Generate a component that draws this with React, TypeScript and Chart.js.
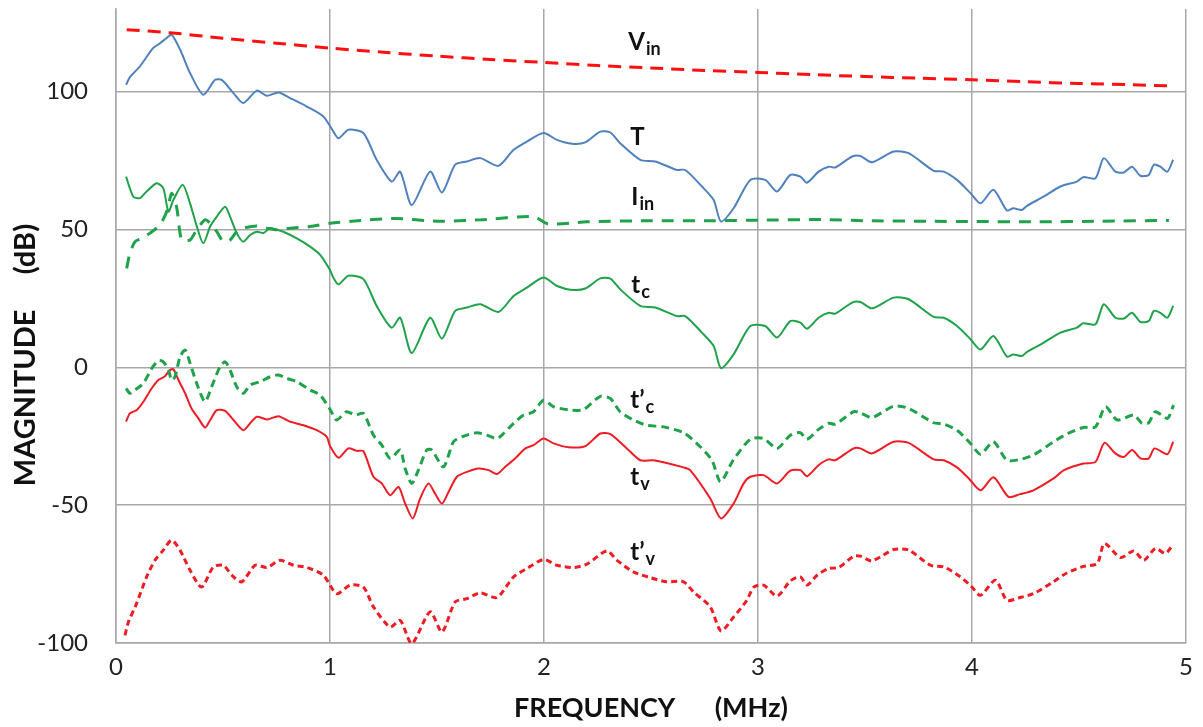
import { useEffect, useRef } from 'react';
import { Chart, registerables } from 'chart.js';

Chart.register(...registerables);

// ---------- data (frequency in MHz, magnitude in dB) ----------
const vinFreq = [0.05, 0.25, 0.5, 0.75, 1.0, 1.25, 1.5, 1.75, 2.0, 2.25, 2.5, 2.75, 3.0, 3.25, 3.5, 3.75, 4.0, 4.25, 4.5, 4.75, 4.92];
const vinMag = [122.5, 121.4, 119.4, 117.6, 115.8, 114.3, 112.9, 111.7, 110.6, 109.5, 108.6, 107.7, 107.0, 106.2, 105.5, 104.9, 104.3, 103.6, 103.0, 102.5, 102.1];

const tFreq = [0.047, 0.065, 0.112, 0.173, 0.206, 0.237, 0.26, 0.3, 0.346, 0.408, 0.463, 0.494, 0.549, 0.595, 0.658, 0.705, 0.759, 0.813, 0.892, 0.969, 1.016, 1.04, 1.086, 1.156, 1.218, 1.288, 1.328, 1.382, 1.468, 1.523, 1.585, 1.64, 1.702, 1.787, 1.858, 1.92, 1.998, 2.061, 2.131, 2.193, 2.263, 2.31, 2.356, 2.45, 2.52, 2.621, 2.66, 2.738, 2.793, 2.827, 2.886, 2.964, 3.034, 3.089, 3.151, 3.198, 3.229, 3.283, 3.33, 3.361, 3.44, 3.478, 3.533, 3.634, 3.704, 3.821, 3.868, 3.93, 3.993, 4.04, 4.1, 4.163, 4.193, 4.233, 4.257, 4.334, 4.413, 4.49, 4.52, 4.577, 4.616, 4.67, 4.71, 4.748, 4.787, 4.826, 4.85, 4.88, 4.913, 4.94];
const tMag = [102.5, 105.3, 109.2, 115.8, 117.6, 119.5, 120.7, 115.2, 106.8, 98.9, 104.3, 104.3, 99.5, 95.9, 100.4, 98.5, 99.7, 97.7, 94.6, 91.0, 85.5, 83.1, 86.2, 85.0, 75.3, 67.4, 71.0, 58.9, 71.0, 63.4, 73.5, 74.7, 75.9, 73.1, 78.9, 81.9, 85.0, 82.5, 81.1, 81.6, 85.5, 85.2, 81.3, 75.3, 74.7, 71.6, 71.6, 65.6, 60.7, 52.9, 57.7, 68.0, 68.0, 63.8, 69.8, 69.2, 67.0, 71.0, 72.8, 72.5, 76.5, 76.7, 74.4, 78.3, 77.7, 71.3, 71.0, 68.0, 63.2, 59.5, 64.4, 56.9, 57.7, 57.1, 58.6, 61.9, 65.6, 67.4, 69.0, 68.6, 75.9, 71.0, 70.7, 72.8, 69.5, 69.8, 73.5, 72.8, 71.0, 75.3];

const iinFreq = [0.05, 0.065, 0.089, 0.12, 0.159, 0.206, 0.24, 0.26, 0.283, 0.307, 0.346, 0.377, 0.416, 0.44, 0.471, 0.502, 0.533, 0.564, 0.595, 0.658, 0.705, 0.751, 0.813, 0.907, 1.0, 1.1, 1.3, 1.5, 1.7, 1.95, 2.02, 2.2, 2.5, 2.8, 3.0, 3.3, 3.5, 3.8, 4.0, 4.3, 4.6, 4.92];
const iinMag = [35.9, 41.4, 45.6, 46.8, 48.7, 51.7, 57.1, 63.2, 58.3, 46.2, 46.2, 49.9, 53.5, 52.3, 49.2, 45.6, 46.2, 49.2, 50.5, 51.3, 50.5, 49.9, 50.5, 51.1, 52.3, 53.0, 54.0, 53.0, 53.5, 54.7, 52.0, 52.8, 53.2, 53.2, 53.4, 53.6, 53.2, 53.0, 52.9, 52.8, 53.0, 53.3];

const tcFreq = [0.047, 0.081, 0.112, 0.143, 0.19, 0.221, 0.245, 0.268, 0.312, 0.346, 0.377, 0.408, 0.44, 0.471, 0.51, 0.533, 0.564, 0.595, 0.627, 0.658, 0.689, 0.72, 0.751, 0.782, 0.845, 0.907, 0.954, 1.0, 1.016, 1.04, 1.086, 1.156, 1.218, 1.288, 1.328, 1.382, 1.468, 1.523, 1.585, 1.64, 1.702, 1.787, 1.858, 1.92, 1.998, 2.061, 2.131, 2.193, 2.263, 2.31, 2.356, 2.45, 2.52, 2.621, 2.66, 2.738, 2.793, 2.827, 2.886, 2.964, 3.034, 3.089, 3.151, 3.198, 3.229, 3.283, 3.33, 3.361, 3.44, 3.478, 3.533, 3.634, 3.704, 3.821, 3.868, 3.93, 3.993, 4.04, 4.1, 4.163, 4.193, 4.233, 4.257, 4.334, 4.413, 4.49, 4.52, 4.577, 4.616, 4.67, 4.71, 4.748, 4.787, 4.826, 4.85, 4.88, 4.913, 4.94];
const tcMag = [69.2, 61.9, 61.4, 63.8, 66.8, 65.0, 56.5, 60.7, 66.2, 59.5, 51.3, 45.0, 51.1, 54.7, 58.3, 54.7, 48.7, 45.6, 48.0, 49.2, 48.7, 50.5, 49.9, 49.2, 46.8, 43.8, 40.8, 35.3, 32.5, 30.1, 33.2, 32.0, 22.3, 14.4, 18.0, 5.2, 18.0, 10.4, 20.5, 21.7, 22.9, 20.1, 25.9, 28.9, 32.6, 29.5, 28.1, 28.6, 32.3, 32.2, 28.3, 22.3, 21.7, 18.6, 18.6, 12.6, 7.7, -0.3, 4.7, 15.0, 15.0, 10.8, 16.8, 16.2, 14.0, 18.0, 19.8, 19.5, 23.5, 23.7, 21.4, 25.3, 24.7, 18.3, 18.0, 15.0, 10.2, 6.5, 11.4, 3.9, 4.7, 4.1, 5.6, 8.9, 12.6, 14.4, 16.0, 15.6, 22.9, 18.0, 17.7, 19.8, 16.5, 16.8, 20.5, 19.8, 18.0, 22.3];

const tcpFreq = [0.047, 0.065, 0.089, 0.128, 0.167, 0.198, 0.221, 0.245, 0.26, 0.276, 0.299, 0.323, 0.346, 0.377, 0.416, 0.447, 0.486, 0.51, 0.533, 0.564, 0.595, 0.627, 0.673, 0.72, 0.759, 0.798, 0.845, 0.907, 0.954, 1.0, 1.031, 1.078, 1.117, 1.156, 1.203, 1.242, 1.281, 1.328, 1.351, 1.382, 1.413, 1.452, 1.476, 1.53, 1.577, 1.616, 1.686, 1.733, 1.78, 1.811, 1.858, 1.905, 1.951, 1.998, 2.045, 2.123, 2.185, 2.263, 2.31, 2.356, 2.418, 2.48, 2.558, 2.652, 2.73, 2.785, 2.825, 2.884, 2.964, 3.026, 3.089, 3.151, 3.198, 3.229, 3.283, 3.33, 3.361, 3.447, 3.478, 3.533, 3.634, 3.704, 3.821, 3.868, 3.93, 3.993, 4.04, 4.1, 4.163, 4.225, 4.287, 4.381, 4.443, 4.52, 4.577, 4.624, 4.678, 4.756, 4.794, 4.826, 4.857, 4.913, 4.942];
const tcpMag = [-7.6, -9.4, -8.2, -5.8, -0.4, 2.4, 2.0, -1.0, -4.6, -3.4, 3.8, 6.3, 1.5, -5.8, -12.5, -7.0, 0.2, 2.0, -1.0, -7.0, -9.4, -6.4, -5.2, -3.4, -2.8, -4.0, -5.2, -8.2, -10.1, -15.2, -19.1, -16.1, -17.3, -16.7, -24.6, -28.2, -33.0, -30.0, -36.7, -42.1, -37.3, -30.0, -30.0, -36.1, -27.0, -25.2, -23.7, -24.6, -25.8, -24.0, -20.3, -17.3, -16.1, -11.9, -14.3, -15.5, -15.3, -10.5, -11.3, -16.1, -19.1, -21.0, -21.6, -23.7, -28.8, -33.7, -41.5, -33.7, -26.1, -25.8, -29.4, -24.6, -23.7, -26.1, -22.5, -20.3, -20.6, -16.1, -16.5, -18.2, -14.1, -14.9, -20.1, -20.6, -22.8, -27.6, -31.5, -27.0, -33.7, -33.4, -31.8, -27.0, -24.2, -21.8, -21.6, -14.3, -19.1, -17.3, -20.3, -20.1, -16.1, -18.5, -13.7];

const tvFreq = [0.047, 0.065, 0.097, 0.128, 0.167, 0.198, 0.229, 0.252, 0.268, 0.292, 0.323, 0.353, 0.385, 0.416, 0.44, 0.471, 0.51, 0.549, 0.595, 0.627, 0.658, 0.705, 0.759, 0.813, 0.876, 0.938, 0.985, 1.0, 1.04, 1.086, 1.125, 1.156, 1.203, 1.242, 1.281, 1.32, 1.351, 1.387, 1.421, 1.46, 1.491, 1.523, 1.554, 1.593, 1.64, 1.694, 1.741, 1.78, 1.819, 1.866, 1.913, 1.951, 1.998, 2.045, 2.115, 2.193, 2.263, 2.31, 2.387, 2.45, 2.512, 2.652, 2.683, 2.777, 2.827, 2.886, 2.933, 2.964, 3.026, 3.089, 3.151, 3.198, 3.229, 3.283, 3.33, 3.361, 3.447, 3.478, 3.533, 3.634, 3.704, 3.821, 3.868, 3.93, 3.985, 4.04, 4.1, 4.171, 4.225, 4.287, 4.381, 4.43, 4.52, 4.577, 4.619, 4.67, 4.71, 4.748, 4.787, 4.826, 4.853, 4.913, 4.94];
const tvMag = [-19.7, -16.7, -15.5, -12.5, -7.6, -4.6, -3.2, -1.0, -0.7, -4.6, -9.4, -14.9, -18.5, -21.8, -19.1, -15.5, -15.8, -19.1, -22.8, -20.3, -17.9, -18.9, -17.7, -19.7, -21.0, -22.8, -25.2, -28.5, -32.8, -29.4, -30.3, -30.4, -39.7, -42.1, -46.4, -43.4, -49.4, -54.8, -47.6, -42.1, -45.8, -49.4, -45.2, -39.7, -37.9, -36.7, -37.3, -38.7, -36.1, -33.0, -29.4, -28.2, -25.8, -27.6, -29.0, -28.6, -24.0, -24.2, -29.4, -33.7, -33.7, -36.3, -37.3, -47.6, -54.8, -49.4, -42.1, -39.7, -39.1, -42.1, -37.5, -37.3, -39.5, -35.5, -33.4, -33.7, -29.4, -29.4, -31.2, -27.0, -27.4, -33.4, -33.7, -36.3, -40.3, -44.6, -39.9, -47.0, -46.0, -44.6, -40.3, -37.3, -34.9, -34.3, -27.4, -31.2, -32.5, -30.0, -33.0, -33.0, -29.4, -31.5, -27.0];

const tvpFreq = [0.042, 0.058, 0.096, 0.143, 0.182, 0.221, 0.26, 0.299, 0.346, 0.4, 0.455, 0.502, 0.541, 0.588, 0.65, 0.705, 0.767, 0.829, 0.892, 0.969, 1.031, 1.094, 1.156, 1.203, 1.281, 1.328, 1.382, 1.468, 1.523, 1.585, 1.64, 1.702, 1.78, 1.858, 1.92, 1.998, 2.061, 2.138, 2.2, 2.294, 2.341, 2.418, 2.496, 2.574, 2.652, 2.699, 2.777, 2.827, 2.886, 2.948, 2.98, 3.026, 3.089, 3.151, 3.198, 3.229, 3.276, 3.33, 3.377, 3.447, 3.478, 3.533, 3.634, 3.704, 3.806, 3.868, 3.946, 4.0, 4.04, 4.11, 4.163, 4.225, 4.287, 4.381, 4.443, 4.52, 4.585, 4.619, 4.694, 4.756, 4.803, 4.857, 4.904, 4.94];
const tvpMag = [-97.2, -92.4, -85.7, -76.0, -70.0, -66.3, -62.7, -66.3, -73.6, -79.7, -72.4, -71.8, -75.4, -77.8, -71.8, -72.6, -70.0, -71.8, -72.6, -75.4, -82.1, -79.0, -79.7, -86.9, -94.2, -91.8, -100.2, -88.7, -96.0, -85.1, -83.9, -81.8, -83.5, -76.0, -73.0, -69.7, -71.8, -72.6, -71.4, -66.6, -70.0, -74.2, -76.3, -77.8, -77.8, -81.5, -86.9, -95.6, -90.6, -84.5, -79.7, -79.0, -83.0, -77.5, -76.0, -79.0, -75.4, -73.0, -72.6, -68.5, -68.5, -70.2, -66.1, -66.3, -71.8, -72.4, -76.0, -79.7, -82.7, -77.2, -84.5, -83.5, -82.1, -77.8, -74.6, -72.2, -71.2, -63.9, -69.0, -66.6, -70.0, -65.7, -67.5, -64.2];

// axis ticks
const xTickStep = 1;
const yTickStep = 50;

// curve labels (data coordinates of label baseline start)
const labelMain = ['V', 'T', 'I', 't', 't\u2019', 't', 't\u2019'];
const labelSub = ['in', '', 'in', 'c', 'c', 'v', 'v'];
const labelFreq = [2.394, 2.403, 2.408, 2.408, 2.403, 2.403, 2.403];
const labelMag = [115.2, 80.7, 58.8, 26.9, -14.8, -42.7, -69.9];

const yTitle = 'MAGNITUDE     (dB)';
const xTitle = 'FREQUENCY      (MHz)';

const FONT = 'Lato, "Open Sans", "DejaVu Sans", sans-serif';

const toPts = (xs: number[], ys: number[]) => xs.map((x, i) => ({ x, y: ys[i] }));

const labelPlugin = {
  id: 'curveLabels',
  afterDatasetsDraw(chart: any) {
    const { ctx, scales } = chart;
    const xs = scales.x;
    const ys = scales.y;
    ctx.save();
    ctx.fillStyle = '#111111';
    ctx.textAlign = 'left';
    ctx.textBaseline = 'alphabetic';
    for (let i = 0; i < labelMain.length; i++) {
      const px = xs.getPixelForValue(labelFreq[i]);
      const py = ys.getPixelForValue(labelMag[i]);
      ctx.font = `bold 24px ${FONT}`;
      ctx.fillText(labelMain[i], px, py);
      const w = ctx.measureText(labelMain[i]).width;
      if (labelSub[i]) {
        ctx.font = `bold 18px ${FONT}`;
        ctx.fillText(labelSub[i], px + w + 1, py + 5);
      }
    }
    // vertical axis title
    ctx.translate(34.5, 355);
    ctx.rotate(-Math.PI / 2);
    ctx.textAlign = 'center';
    ctx.textBaseline = 'alphabetic';
    ctx.font = `bold 29px ${FONT}`;
    ctx.fillText(yTitle, 0, 0);
    ctx.restore();
  },
};

export default function App() {
  const ref = useRef<HTMLCanvasElement | null>(null);

  useEffect(() => {
    if (!ref.current) return;
    const green = '#1fa24a';
    const chart = new Chart(ref.current, {
      type: 'line',
      data: {
        datasets: [
          { label: 'Vin', data: toPts(vinFreq, vinMag), borderColor: '#ff1010', borderWidth: 3, borderDash: [13, 8], tension: 0.3 },
          { label: 'T', data: toPts(tFreq, tMag), borderColor: '#4f81bd', borderWidth: 2, tension: 0.25 },
          { label: 'Iin', data: toPts(iinFreq, iinMag), borderColor: green, borderWidth: 3, borderDash: [12, 9], tension: 0.25 },
          { label: 'tc', data: toPts(tcFreq, tcMag), borderColor: green, borderWidth: 2, tension: 0.25 },
          { label: "t'c", data: toPts(tcpFreq, tcpMag), borderColor: green, borderWidth: 3, borderDash: [8, 5], tension: 0.25 },
          { label: 'tv', data: toPts(tvFreq, tvMag), borderColor: '#ee1c24', borderWidth: 2, tension: 0.25 },
          { label: "t'v", data: toPts(tvpFreq, tvpMag), borderColor: '#ee1c24', borderWidth: 3, borderDash: [6, 4], tension: 0.25 },
        ],
      },
      options: {
        animation: false,
        responsive: false,
        devicePixelRatio: 1,
        events: [],
        layout: { padding: { top: 9, right: 17, left: 0, bottom: 0 } },
        elements: { point: { radius: 0 } },
        plugins: { legend: { display: false }, tooltip: { enabled: false } },
        scales: {
          x: {
            type: 'linear',
            min: 0,
            max: 5,
            ticks: { stepSize: xTickStep, padding: 10, color: '#222', font: { family: FONT, size: 24 } },
            grid: { color: '#a8a8a8', lineWidth: 1.5, drawTicks: false },
            border: { color: '#a8a8a8', width: 1.5 },
            title: { display: true, text: xTitle, color: '#111', font: { family: FONT, size: 27, weight: 'bold' }, padding: { top: 0, bottom: 2.5 } },
            afterFit: (s: any) => { s.height = 84; s.paddingLeft = 0; s.paddingRight = 0; },
          },
          y: {
            type: 'linear',
            min: -100,
            max: 130,
            ticks: { stepSize: yTickStep, includeBounds: false, padding: 28, color: '#222', font: { family: FONT, size: 24 } },
            grid: { color: '#a8a8a8', lineWidth: 1.5, drawTicks: false },
            border: { color: '#a8a8a8', width: 1.5 },
            title: { display: false },
            afterFit: (s: any) => { s.width = 116; s.paddingTop = 0; s.paddingBottom = 0; },
          },
        },
      },
      plugins: [labelPlugin],
    } as any);
    return () => chart.destroy();
  }, []);

  return (
    <div style={{ position: 'fixed', left: 0, top: 0, width: 1203, height: 727, background: '#fff' }}>
      <canvas ref={ref} width={1203} height={727} style={{ width: 1203, height: 727, display: 'block' }} />
    </div>
  );
}
